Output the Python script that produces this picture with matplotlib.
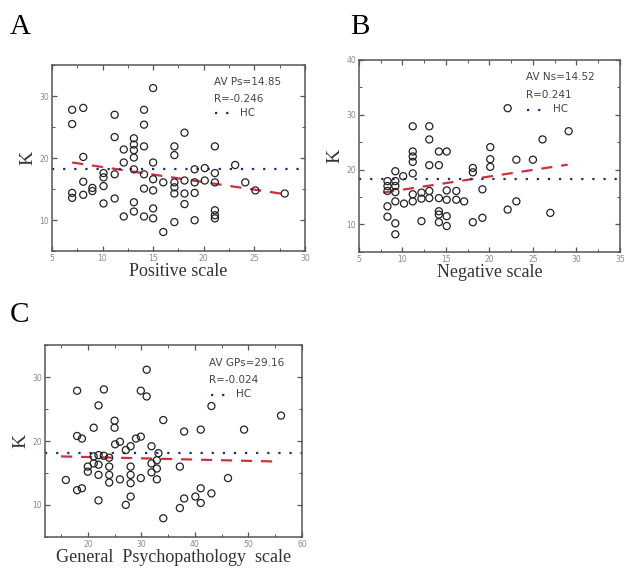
import numpy as np
import matplotlib
matplotlib.use("Agg")
import matplotlib.pyplot as plt
from matplotlib.ticker import MultipleLocator

# ---- data ----
# A: positive scale
a_x = [7, 8.1, 7, 8.1, 8.1, 7, 7, 8.1, 9, 9, 10.1, 10.1, 10.1, 10.1,
       11.2, 11.2, 11.2, 11.2, 12.1, 12.1, 12.1,
       13.1, 13.1, 13.1, 13.1, 13.1, 13.1, 13.1,
       14.1, 14.1, 14.1, 14.1, 14.1, 14.1,
       15, 15, 15, 15, 15, 15, 16, 16,
       17.1, 17.1, 17.1, 17.1, 17.1, 17.1,
       18.1, 18.1, 18.1, 18.1, 19.1, 19.1, 19.1, 19.1, 20.1, 20.1,
       21.1, 21.1, 21.1, 21.1, 21.1, 21.1, 23.1, 24.1, 25.1, 28]
a_y = [27.8, 28.1, 25.5, 20.2, 16.2, 14.4, 13.6, 14.1, 15.2, 14.7, 17.6, 16.9, 15.5, 12.7,
       27.0, 23.4, 17.4, 13.5, 21.4, 19.3, 10.6,
       23.2, 22.2, 21.3, 20.1, 18.2, 12.9, 11.4,
       27.8, 25.4, 21.9, 17.4, 15.1, 10.6,
       31.3, 19.3, 16.6, 14.8, 11.9, 10.3, 16.1, 8.1,
       21.9, 20.5, 16.1, 15.3, 14.3, 9.7,
       24.1, 16.4, 14.3, 12.6, 18.2, 16.1, 14.4, 10.0, 18.4, 16.4,
       21.9, 17.6, 16.1, 11.6, 10.8, 10.3, 18.9, 16.1, 14.8, 14.3]
a_fit_x = [7, 28]
a_fit_y = [19.3, 14.2]

# B: negative scale
b_x = [8.3, 8.3, 8.3, 8.3, 8.3,
       9.2, 9.2, 9.2, 9.2, 9.2, 9.2, 9.2, 10.2, 10.1,
       11.2, 11.2, 11.2, 11.2, 11.2, 11.2, 11.2, 12.2, 12.2, 12.2,
       13.1, 13.1, 13.1, 13.1, 13.1,
       14.2, 14.2, 14.2, 14.2, 14.2, 14.2,
       15.1, 15.1, 15.1, 15.1, 15.1, 16.2, 16.2, 17.1,
       18.1, 18.1, 18.1, 19.2, 19.2, 20.1, 20.1, 20.1,
       22.1, 22.1, 23.1, 23.1, 25, 26.1, 27, 29.1]
b_y = [17.9, 17.0, 16.1, 13.3, 11.4,
       19.7, 17.9, 17.0, 15.9, 14.2, 10.2, 8.2, 13.8, 18.8,
       27.9, 23.3, 22.4, 21.4, 19.3, 15.5, 14.2, 15.8, 14.7, 10.6,
       27.9, 25.5, 20.8, 16.1, 14.8,
       20.8, 23.3, 14.8, 12.4, 11.8, 10.4,
       23.3, 16.2, 14.5, 11.5, 9.7, 16.1, 14.5, 14.2,
       20.3, 19.5, 10.4, 16.4, 11.2, 24.1, 21.9, 20.5,
       31.2, 12.7, 21.8, 14.2, 21.8, 25.5, 12.1, 27.0]
b_fit_x = [7.8, 29]
b_fit_y = [15.8, 20.9]

# C: general psychopathology scale
c_x = [15.9, 18, 18, 18, 18.9, 18.9, 20, 20, 21.1, 21.1, 21.1,
       22, 22, 22, 22, 22, 23, 23, 24, 24, 24, 24,
       25, 25, 25.1, 26, 26, 27.1, 27.1,
       28, 28, 28, 28, 28, 29, 29.9, 29.9, 29.9, 31, 31,
       31.9, 31.9, 31.9, 32.9, 32.9, 32.9, 33.2, 34.1, 34.1,
       37.2, 37.2, 38, 38, 40.1, 41.1, 41.1, 41.1, 43.1, 43.1,
       46.2, 49.2, 56.1]
c_y = [13.9, 27.9, 20.8, 12.3, 20.4, 12.6, 16.0, 15.2, 22.1, 17.6, 16.5,
       25.6, 17.8, 16.3, 14.7, 10.7, 28.1, 17.7, 17.4, 16.0, 14.7, 13.5,
       23.2, 22.1, 19.5, 19.9, 14.0, 18.6, 10.0,
       19.2, 16.0, 14.7, 13.4, 11.3, 20.4, 27.9, 20.7, 14.2, 27.0, 31.2,
       19.2, 16.5, 15.1, 17.0, 15.7, 14.0, 18.1, 23.3, 7.9,
       16.0, 9.5, 21.5, 11.0, 11.3, 21.8, 12.6, 10.3, 25.5, 11.8,
       14.2, 21.8, 24.0]
c_fit_x = [15, 55]
c_fit_y = [17.6, 16.8]

hc_level = 18.2

panels = [
    ("A", "Positive scale", a_x, a_y, a_fit_x, a_fit_y,
     ["AV Ps=14.85", "R=-0.246"], (5, 30), (5, 35), 5, 10),
    ("B", "Negative scale", b_x, b_y, b_fit_x, b_fit_y,
     ["AV Ns=14.52", "R=0.241"], (5, 35), (5, 40), 5, 10),
    ("C", "General  Psychopathology  scale", c_x, c_y, c_fit_x, c_fit_y,
     ["AV GPs=29.16", "R=-0.024"], (12, 60), (5, 35), 10, 10),
]
boxes = [(0.083, 0.560, 0.405, 0.326),
         (0.574, 0.559, 0.418, 0.336),
         (0.072, 0.060, 0.411, 0.335)]
letter_pos = [(0.016, 0.952), (0.56, 0.952), (0.016, 0.448)]

fig = plt.figure(figsize=(6.25, 5.71), dpi=100)
serif = "Liberation Serif"
gray = "#8a8a8a"

for (letter, xlabel, xs, ys, fx, fy, notes, xlim, ylim, xmaj, ymaj), box, lp in zip(panels, boxes, letter_pos):
    ax = fig.add_axes(box)
    ax.scatter(xs, ys, s=26, facecolors="none", edgecolors="#222222", linewidths=0.9, zorder=3)
    ax.plot(fx, fy, color="#d0303a", lw=1.6, ls=(0, (5, 4)), zorder=2)
    ax.axhline(hc_level, color="#1c2a80", lw=1.6, ls=(0, (1, 4)), zorder=2)
    ax.set_xlim(*xlim)
    ax.set_ylim(*ylim)
    ax.xaxis.set_major_locator(MultipleLocator(xmaj))
    ax.xaxis.set_minor_locator(MultipleLocator(xmaj / 2))
    ax.yaxis.set_major_locator(MultipleLocator(ymaj))
    ax.yaxis.set_minor_locator(MultipleLocator(ymaj / 2))
    ax.tick_params(which="both", direction="in", top=True, right=True,
                   colors="#555555", labelcolor=gray, labelsize=5.5, pad=2)
    ax.tick_params(which="major", length=3.5, width=0.9)
    ax.tick_params(which="minor", length=2, width=0.7)
    ax.set_yticks([t for t in ax.get_yticks() if ylim[0] < t <= ylim[1]])
    for sp in ax.spines.values():
        sp.set_color("#555555")
        sp.set_linewidth(1.1)
    ax.set_xlabel(xlabel, family=serif, fontsize=13, color="#333333", labelpad=0)
    ax.set_ylabel("K", family=serif, fontsize=14, color="#333333", labelpad=2)
    ax.text(0.64, 0.935, notes[0], transform=ax.transAxes, fontsize=7.5, color="#444444", va="top")
    ax.text(0.64, 0.845, notes[1], transform=ax.transAxes, fontsize=7.5, color="#444444", va="top")
    ax.plot([0.645, 0.73], [0.74, 0.74], transform=ax.transAxes, color="#1c2a80",
            lw=1.6, ls=(0, (1, 4)))
    ax.text(0.745, 0.745, "HC", transform=ax.transAxes, fontsize=7.5, color="#444444", va="center")
    fig.text(lp[0], lp[1], letter, family=serif, fontsize=21, color="black", va="center")

fig.savefig("out.png", dpi=100)
